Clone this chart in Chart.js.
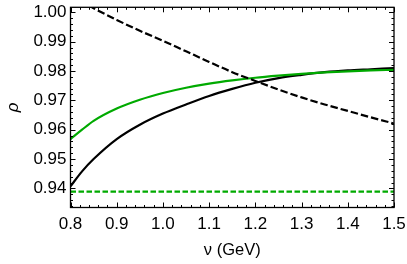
<!DOCTYPE html>
<html>
<head>
<meta charset="utf-8">
<script src="https://cdn.jsdelivr.net/npm/chart.js@4.4.1/dist/chart.umd.min.js"></script>
<style>
html, body { margin: 0; padding: 0; background: #fff; }
#wrap { width: 407px; height: 264px; }
</style>
</head>
<body>
<div id="wrap"><canvas id="chart"></canvas></div>
<script>
// nu in GeV, rho values
const nu = [0.80, 0.825, 0.85, 0.90, 0.95, 1.00, 1.05, 1.10, 1.15, 1.20, 1.25, 1.30, 1.35, 1.40, 1.45, 1.50];
const rhoBlackSolid = [0.9407, 0.9458, 0.9500, 0.9568, 0.9617, 0.9655, 0.9686, 0.9715, 0.9739, 0.9760, 0.9776, 0.9787, 0.9796, 0.9802, 0.9806, 0.9810];
const rhoBlackDashed = [1.0060, 1.0036, 1.0014, 0.9974, 0.9937, 0.9903, 0.9867, 0.9831, 0.9796, 0.9766, 0.9737, 0.9710, 0.9686, 0.9664, 0.9642, 0.9621];
const rhoGreenSolid = [0.9568, 0.9600, 0.9630, 0.9672, 0.9702, 0.9725, 0.9743, 0.9757, 0.9768, 0.9777, 0.9784, 0.9790, 0.9795, 0.9799, 0.9802, 0.9804];
const rhoGreenDashed = [0.9389, 0.9389, 0.9389, 0.9389, 0.9389, 0.9389, 0.9389, 0.9389, 0.9389, 0.9389, 0.9389, 0.9389, 0.9389, 0.9389, 0.9389, 0.9389];
const xTicks = [0.8, 0.9, 1.0, 1.1, 1.2, 1.3, 1.4, 1.5];
const yTicks = [0.94, 0.95, 0.96, 0.97, 0.98, 0.99, 1.00];

const green = 'rgb(0,170,0)';

function pts(ys) {
    return nu.map((x, i) => ({ x: x, y: ys[i] }));
}

function line(ys, color, dash) {
    return {
        data: pts(ys),
        borderColor: color,
        borderWidth: 2.2,
        borderDash: dash,
        pointRadius: 0,
        fill: false,
        cubicInterpolationMode: 'monotone',
        clip: 0
    };
}

// Mathematica style frame with inward ticks on all four sides
const frameTicks = {
    id: 'frameTicks',
    afterDatasetsDraw(chart) {
        const { ctx, chartArea: a, scales: { x, y } } = chart;
        ctx.save();
        ctx.strokeStyle = '#000';
        ctx.lineWidth = 1;
        ctx.beginPath();
        for (let i = 0; i <= 35; i++) {
            const px = Math.round(x.getPixelForValue(0.8 + i * 0.02)) + 0.5;
            const len = i % 5 === 0 ? 5 : 2.5;
            ctx.moveTo(px, a.bottom); ctx.lineTo(px, a.bottom - len);
            ctx.moveTo(px, a.top); ctx.lineTo(px, a.top + len);
        }
        for (let i = 0; i <= 33; i++) {
            const py = Math.round(y.getPixelForValue(0.934 + i * 0.002)) + 0.5;
            const len = (i - 3) % 5 === 0 ? 5 : 2.5;
            ctx.moveTo(a.left, py); ctx.lineTo(a.left + len, py);
            ctx.moveTo(a.right, py); ctx.lineTo(a.right - len, py);
        }
        ctx.stroke();
        ctx.lineWidth = 1.3;
        ctx.strokeRect(a.left, a.top, a.right - a.left, a.bottom - a.top);
        ctx.restore();
    }
};

Chart.defaults.font.family = '"Liberation Sans", Arial, sans-serif';
Chart.defaults.color = '#000';

new Chart(document.getElementById('chart').getContext('2d'), {
    type: 'line',
    data: {
        datasets: [
            line(rhoGreenDashed, green, [5.5, 2.5]),
            line(rhoBlackDashed, '#000', [7.5, 3]),
            line(rhoGreenSolid, green, []),
            line(rhoBlackSolid, '#000', [])
        ]
    },
    options: {
        responsive: true,
        maintainAspectRatio: false,
        animation: false,
        layout: { padding: { top: 7.3, right: 13, bottom: 0, left: 0 } },
        plugins: { legend: { display: false }, tooltip: { enabled: false } },
        scales: {
            x: {
                type: 'linear',
                min: 0.8,
                max: 1.5,
                afterFit: s => { s.height = 56.5; s.paddingLeft = 0; s.paddingRight = 0; },
                afterBuildTicks: s => { s.ticks = xTicks.map(v => ({ value: v })); },
                grid: { display: false, drawTicks: false },
                border: { display: false },
                ticks: {
                    font: { size: 17 },
                    padding: 7,
                    maxRotation: 0,
                    callback: v => v.toFixed(1)
                },
                title: {
                    display: true,
                    text: 'ν (GeV)',
                    font: { size: 16.5 },
                    padding: { top: 0, bottom: 4 }
                }
            },
            y: {
                type: 'linear',
                min: 0.9335,
                max: 1.0017,
                afterFit: s => { s.width = 70.5; s.paddingTop = 0; s.paddingBottom = 0; },
                afterBuildTicks: s => { s.ticks = yTicks.map(v => ({ value: v })); },
                grid: { display: false, drawTicks: false },
                border: { display: false },
                ticks: {
                    font: { size: 17 },
                    padding: 4,
                    callback: v => v.toFixed(2)
                },
                title: {
                    display: true,
                    text: 'ρ',
                    font: { size: 17, style: 'italic' },
                    padding: { top: 3, bottom: 0 }
                }
            }
        }
    },
    plugins: [frameTicks]
});
</script>
</body>
</html>
